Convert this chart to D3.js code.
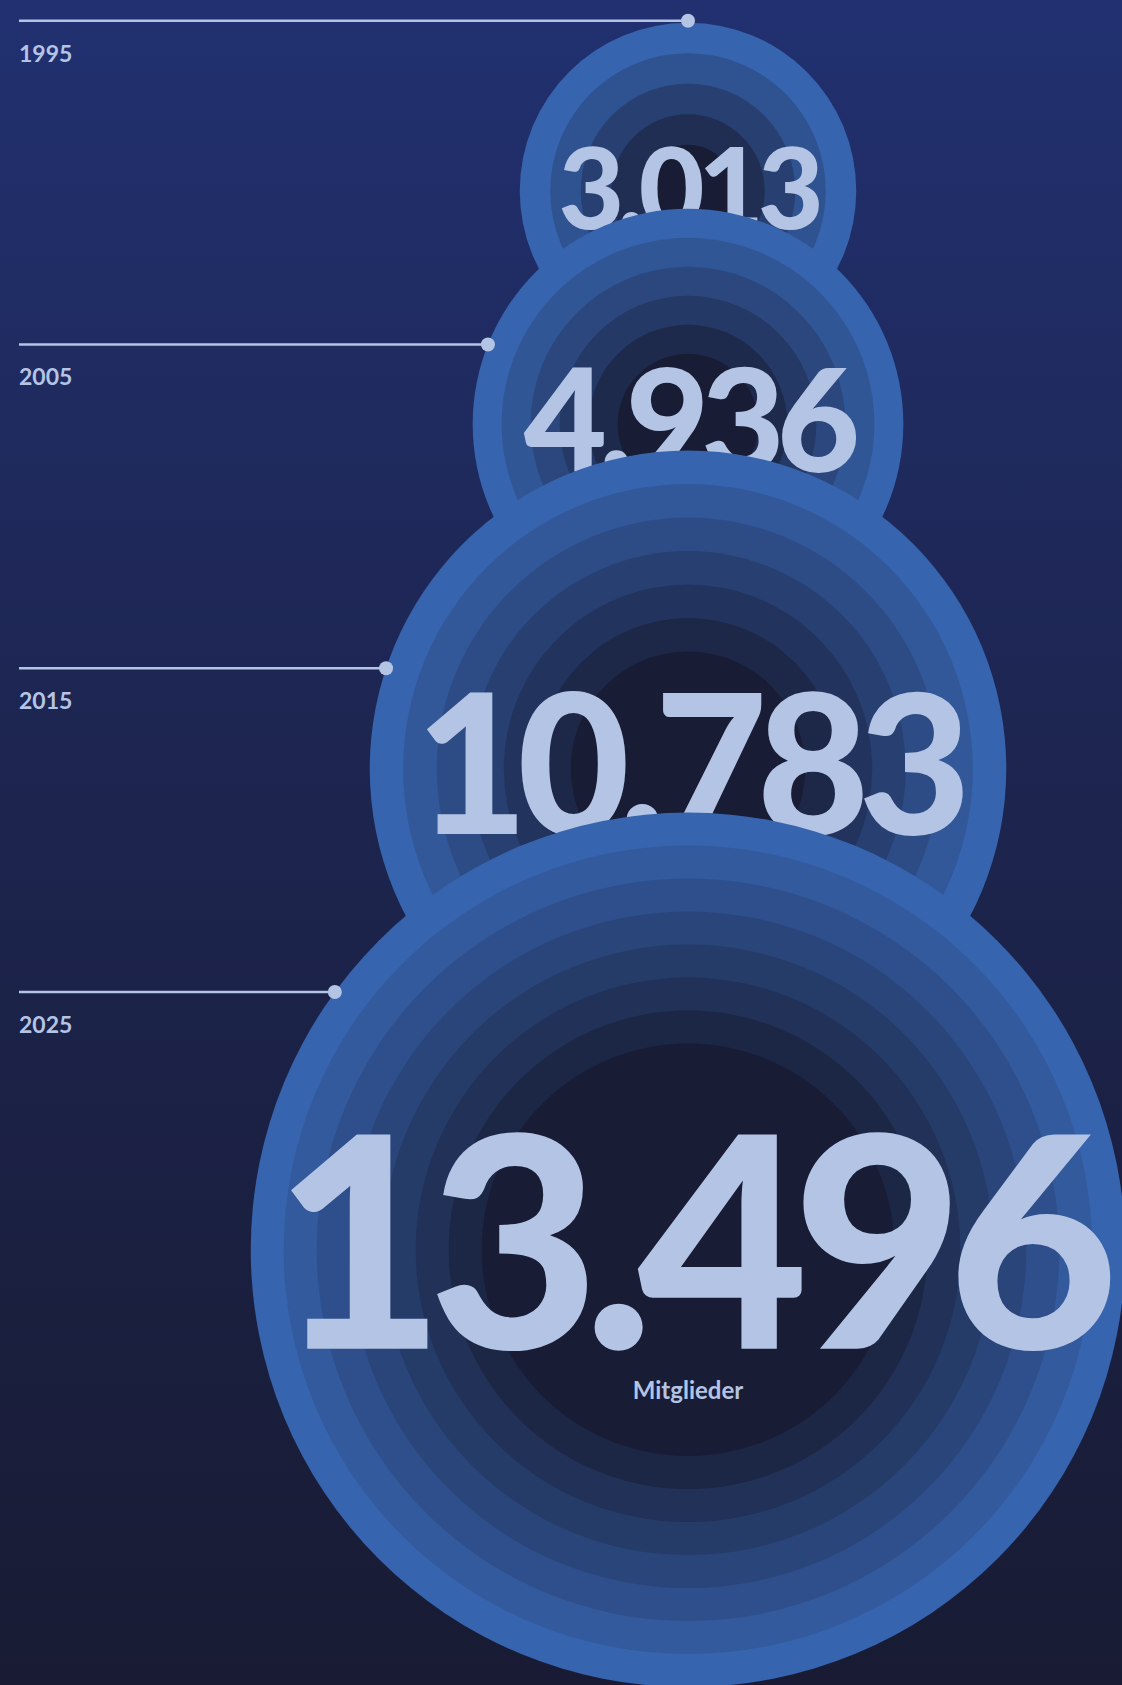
<!DOCTYPE html>
<html>
<head>
<meta charset="utf-8">
<script src="https://cdn.jsdelivr.net/npm/d3@7"></script>
<style>
  html, body { margin: 0; padding: 0; background: #181b33; }
  svg { display: block; }
</style>
</head>
<body>
<div id="chart"></div>
<script>
// ---------- data ----------
const years = ["1995", "2005", "2015", "2025"];
const members = [3013, 4936, 10783, 13496];
const unitLabel = "Mitglieder";

// ---------- layout & style ----------
const W = 1122, H = 1685;
const CX = 688;
const LINE_X0 = 19;
const LINE_RANGE = [20.7, 992];
const HIGHLIGHT = 1.228;          // latest year drawn enlarged
const STACK_STEP = 1.083;         // centre distance relative to next radius
const STACK_STEP_HL = 1.1;        // same, for the highlighted circle
const ringWidth = [30.5, 29, 33.5, 33];
const numberScale = [0.674, 0.668, 0.61, 0.675];
const OUTER = "#3764ae", INNER = "#181c34";
const TEXT = "#b4c4e5";

const fmt = d3.formatLocale({ decimal: ",", thousands: ".", grouping: [3], currency: ["", " €"] }).format(",d");

const svg = d3.select("#chart").append("svg").attr("width", W).attr("height", H);

const defs = svg.append("defs");
const grad = defs.append("linearGradient").attr("id", "bg").attr("x1", 0).attr("y1", 0).attr("x2", 0).attr("y2", 1);
grad.append("stop").attr("offset", "0%").attr("stop-color", "#213070");
grad.append("stop").attr("offset", "45%").attr("stop-color", "#1d2550");
grad.append("stop").attr("offset", "100%").attr("stop-color", "#181b33");
svg.append("rect").attr("width", W).attr("height", H).attr("fill", "url(#bg)");

const yLine = d3.scalePoint().domain(years).range(LINE_RANGE);
const rScale = d3.scaleSqrt().domain([0, 10000]).range([0, 306.5]);

// compute circle geometry
const last = years.length - 1;
const nodes = years.map((y, i) => ({ year: y, value: members[i], i }));
nodes.forEach((d, i) => {
  d.r = rScale(d.value) * (i === last ? HIGHLIGHT : 1);
  if (i === 0) d.cy = yLine(d.year) + d.r + 2;
  else d.cy = nodes[i - 1].cy + (i === last ? STACK_STEP_HL : STACK_STEP) * d.r;
  d.ly = yLine(d.year);
  const dy = d.ly - d.cy;
  d.dotX = CX - Math.sqrt(Math.max(0, d.r * d.r - dy * dy));
});

const groups = svg.selectAll("g.bubble").data(nodes).join("g").attr("class", "bubble");

groups.each(function (d, i) {
  const g = d3.select(this);
  const bands = 4 + i;
  const levels = d3.range(bands + 1);
  const col = d3.interpolateRgb(OUTER, INNER);
  g.selectAll("circle").data(levels).join("circle")
    .attr("cx", CX)
    .attr("cy", d.cy)
    .attr("r", k => d.r - k * ringWidth[i])
    .attr("fill", k => col(k / bands));

  const fs = d.r * numberScale[i];
  g.append("text")
    .attr("x", CX)
    .attr("y", d.cy + 0.335 * fs)
    .attr("text-anchor", "middle")
    .attr("font-family", "Lato, 'Noto Sans', sans-serif")
    .attr("font-weight", 900)
    .attr("font-size", fs)
    .attr("letter-spacing", (-0.055 * fs) + "px")
    .attr("fill", TEXT)
    .text(fmt(d.value));

  if (i === last) {
    g.append("text")
      .attr("x", CX)
      .attr("y", d.cy + 0.335 * fs + 50)
      .attr("text-anchor", "middle")
      .attr("font-family", "Lato, 'Noto Sans', sans-serif")
      .attr("font-weight", 700)
      .attr("font-size", 24)
      .attr("fill", TEXT)
      .text(unitLabel);
  }
});

// year guide lines
const guides = svg.selectAll("g.guide").data(nodes).join("g").attr("class", "guide");
guides.append("line")
  .attr("x1", LINE_X0).attr("x2", d => d.dotX)
  .attr("y1", d => d.ly).attr("y2", d => d.ly)
  .attr("stroke", TEXT).attr("stroke-width", 2.5);
guides.append("circle")
  .attr("cx", d => d.dotX).attr("cy", d => d.ly).attr("r", 7)
  .attr("fill", TEXT);
guides.append("text")
  .attr("x", LINE_X0).attr("y", d => d.ly + 41)
  .attr("font-family", "Lato, 'Noto Sans', sans-serif")
  .attr("font-weight", 700)
  .attr("font-size", 23)
  .attr("fill", TEXT)
  .text(d => d.year);
</script>
</body>
</html>
